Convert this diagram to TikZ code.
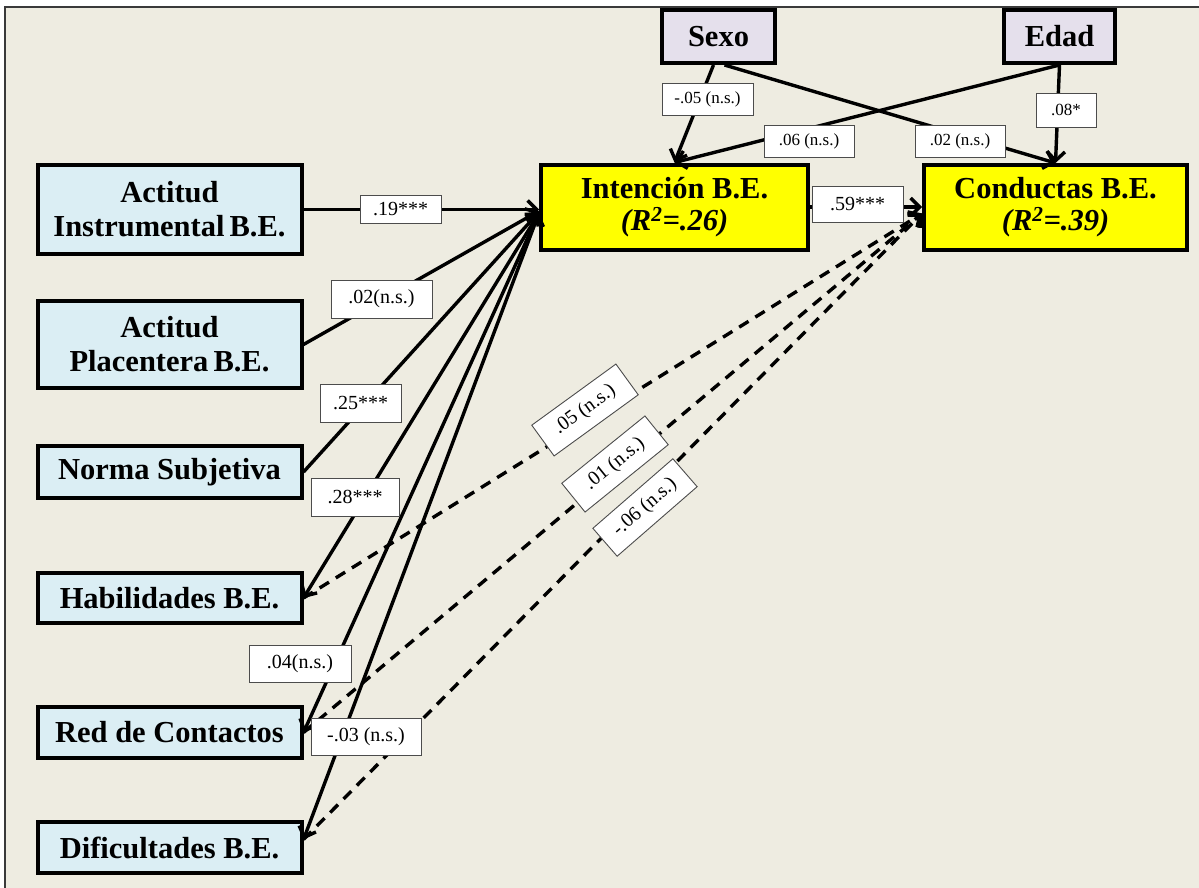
\documentclass[tikz,border=0pt]{standalone}
\usepackage{fontspec}
\setmainfont{Liberation Serif}
\usetikzlibrary{arrows.meta}
\definecolor{bg}{HTML}{EEECE1}
\definecolor{lblue}{HTML}{DBEEF4}
\definecolor{lav}{HTML}{E5E0EC}
\definecolor{yel}{HTML}{FFFF00}
\definecolor{frame}{HTML}{3A3A3A}
\begin{document}
\begin{tikzpicture}[x=1pt,y=-1pt,
  box/.style={draw=black, line width=4pt, align=center, inner sep=0pt,
    font=\fontsize{30.5}{34}\selectfont\bfseries},
  var/.style={box, fill=lblue, minimum width=264pt},
  mid/.style={box, fill=yel, minimum width=267pt, minimum height=85pt,
    font=\fontsize{30.5}{32}\selectfont\bfseries},
  ctl/.style={box, fill=lav, minimum height=53pt},
  lbl/.style={draw=black!70, line width=0.9pt, fill=white, inner sep=0pt,
    font=\fontsize{20}{20}\selectfont},
  slbl/.style={lbl, font=\fontsize{17}{17}\selectfont},
  conn/.style={line width=3.4pt},
  arr/.style={conn, -{Straight Barb[length=9pt,width=18pt,line width=3.4pt]}},
  barr/.style={conn, {Straight Barb[length=9pt,width=18pt,line width=3.4pt]}-{Straight Barb[length=9pt,width=18pt,line width=3.4pt]}},
  dsh/.style={arr, dash pattern=on 11pt off 8pt}
]
\useasboundingbox (0,0) rectangle (1199,888);
\fill[white] (0,0) rectangle (1199,888);
\fill[bg] (5,7) rectangle (1199,888);
\draw[frame, line width=1.5pt] (5,888) -- (5,7) -- (1199,7);

% predictors
\node[var, minimum height=89pt] (AI) at (169.5,209.5) {Actitud\\Instrumental\,B.E.};
\node[var, minimum height=87pt] (AP) at (169.5,344.5) {Actitud\\Placentera\,B.E.};
\node[var, minimum height=52pt] (NS) at (169.5,472) {Norma Subjetiva};
\node[var, minimum height=50pt] (HB) at (169.5,598) {Habilidades B.E.};
\node[var, minimum height=51pt] (RC) at (169.5,732.5) {Red de Contactos};
\node[var, minimum height=51pt] (DF) at (169.5,847.5) {Dificultades B.E.};

% outcomes
\node[mid] (IN) at (674.5,207) {Intención B.E.\\\textit{(R\textsuperscript{2}=.26)}};
\node[mid, minimum width=263pt] (CO) at (1055.5,207.5) {Conductas B.E.\\\textit{(R\textsuperscript{2}=.39)}};

% controls
\node[ctl, minimum width=113pt] (SX) at (718.5,36.5) {Sexo};
\node[ctl, minimum width=111pt] (ED) at (1059.5,36.5) {Edad};

% connectors
\draw[arr] (AI.east) -- (AI.east -| IN.west);
\draw[arr] (AP.east) -- ([yshift=-4pt]IN.west);
\draw[arr] (NS.east) -- ([yshift=-5pt]IN.west);
\draw[barr] (HB.east) -- ([yshift=-6pt]IN.west);
\draw[barr] (RC.east) -- ([yshift=-6pt]IN.west);
\draw[barr] ([yshift=8pt]DF.east) -- ([yshift=-6pt]IN.west);

\draw[dsh] (HB.east) -- ([yshift=-6pt]CO.west);
\draw[dsh] (RC.east) -- ([yshift=-6pt]CO.west);
\draw[dsh] ([yshift=8pt]DF.east) -- ([yshift=-6pt]CO.west);

\draw[arr] (IN.east) -- (IN.east -| CO.west);

\draw[arr] ([xshift=-5pt]SX.south) -- (IN.north);
\draw[arr] ([xshift=6pt]SX.south) -- (CO.north);
\draw[arr] (ED.south) -- (IN.north);
\draw[arr] (ED.south) -- (CO.north);

% labels
\node[lbl, minimum width=81pt, minimum height=28pt] (l1) at (400.5,209.5) {.19***};
\node[lbl, minimum width=101pt, minimum height=38pt] (l2) at (381.5,299) {.02(n.s.)};
\node[lbl, minimum width=81pt, minimum height=38pt] (l3) at (360.5,403) {.25***};
\node[lbl, minimum width=88pt, minimum height=38pt] (l4) at (355,497) {.28***};
\node[lbl, minimum width=102pt, minimum height=37pt] (l5) at (300,663.5) {.04(n.s.)};
\node[lbl, minimum width=110pt, minimum height=37pt] (l6) at (366,736.5) {-.03 (n.s.)};

\node[lbl, minimum width=104pt, minimum height=38pt, rotate=36] (l7) at (585,410) {.05 (n.s.)};
\node[lbl, minimum width=107pt, minimum height=37pt, rotate=39] (l8) at (615,464) {.01 (n.s.)};
\node[lbl, minimum width=106pt, minimum height=37pt, rotate=41] (l9) at (645,507.5) {-.06 (n.s.)};

\node[lbl, minimum width=91pt, minimum height=36pt] (l10) at (857.5,204.5) {.59***};

\node[slbl, minimum width=91pt, minimum height=32pt] (l11) at (707.5,99) {-.05 (n.s.)};
\node[slbl, minimum width=90pt, minimum height=32pt] (l12) at (809,141) {.06 (n.s.)};
\node[slbl, minimum width=90pt, minimum height=32pt] (l13) at (960,141) {.02 (n.s.)};
\node[slbl, minimum width=60pt, minimum height=34pt] (l14) at (1066,110) {.08*};
\end{tikzpicture}
\end{document}
